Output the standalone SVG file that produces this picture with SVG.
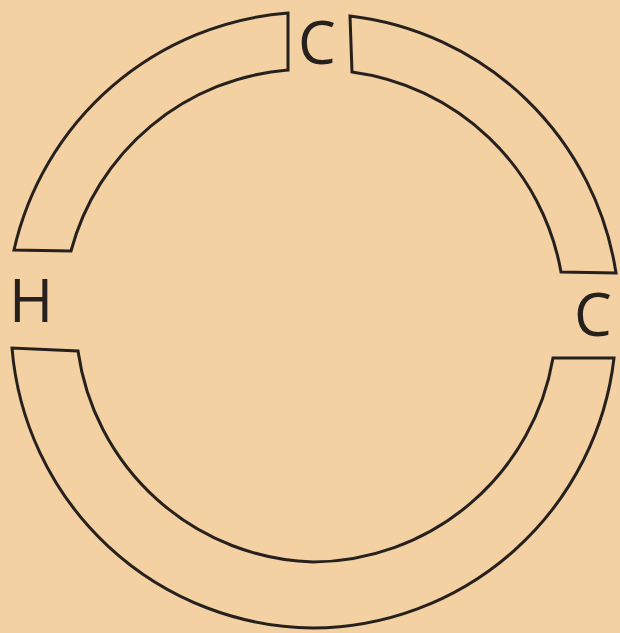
<svg xmlns="http://www.w3.org/2000/svg" width="620" height="633" viewBox="0 0 620 633">
<style>
.seg{fill:none;stroke:#27211e;stroke-width:3;stroke-linejoin:miter}
.lbl{font-family:"Open Sans","Liberation Sans",sans-serif;font-size:60px;fill:#27211e;text-anchor:middle}
</style>
<rect width="620" height="633" fill="#F3D1A3"/>
<g id="connectors">
<path id="arc-top-left" class="seg" d="M288,13 A305,305 0 0 0 14,250 L71,251 A245,245 0 0 1 288,70 Z"/>
<path id="arc-top-right" class="seg" d="M350,16 A305,305 0 0 1 616,273 L561,272 A245,245 0 0 0 352,72 Z"/>
<path id="arc-bottom" class="seg" d="M12,348 A305,305 0 0 0 313,628 A305,305 0 0 0 614,358 L553,358 A245,245 0 0 1 313,562 A245,245 0 0 1 78,351 Z"/>
</g>
<g id="node-c-top"><text class="lbl" x="317" y="64">C</text></g>
<g id="node-c-right"><text class="lbl" x="593" y="336">C</text></g>
<g id="node-h-left"><text class="lbl" x="31" y="322">H</text></g>
</svg>
